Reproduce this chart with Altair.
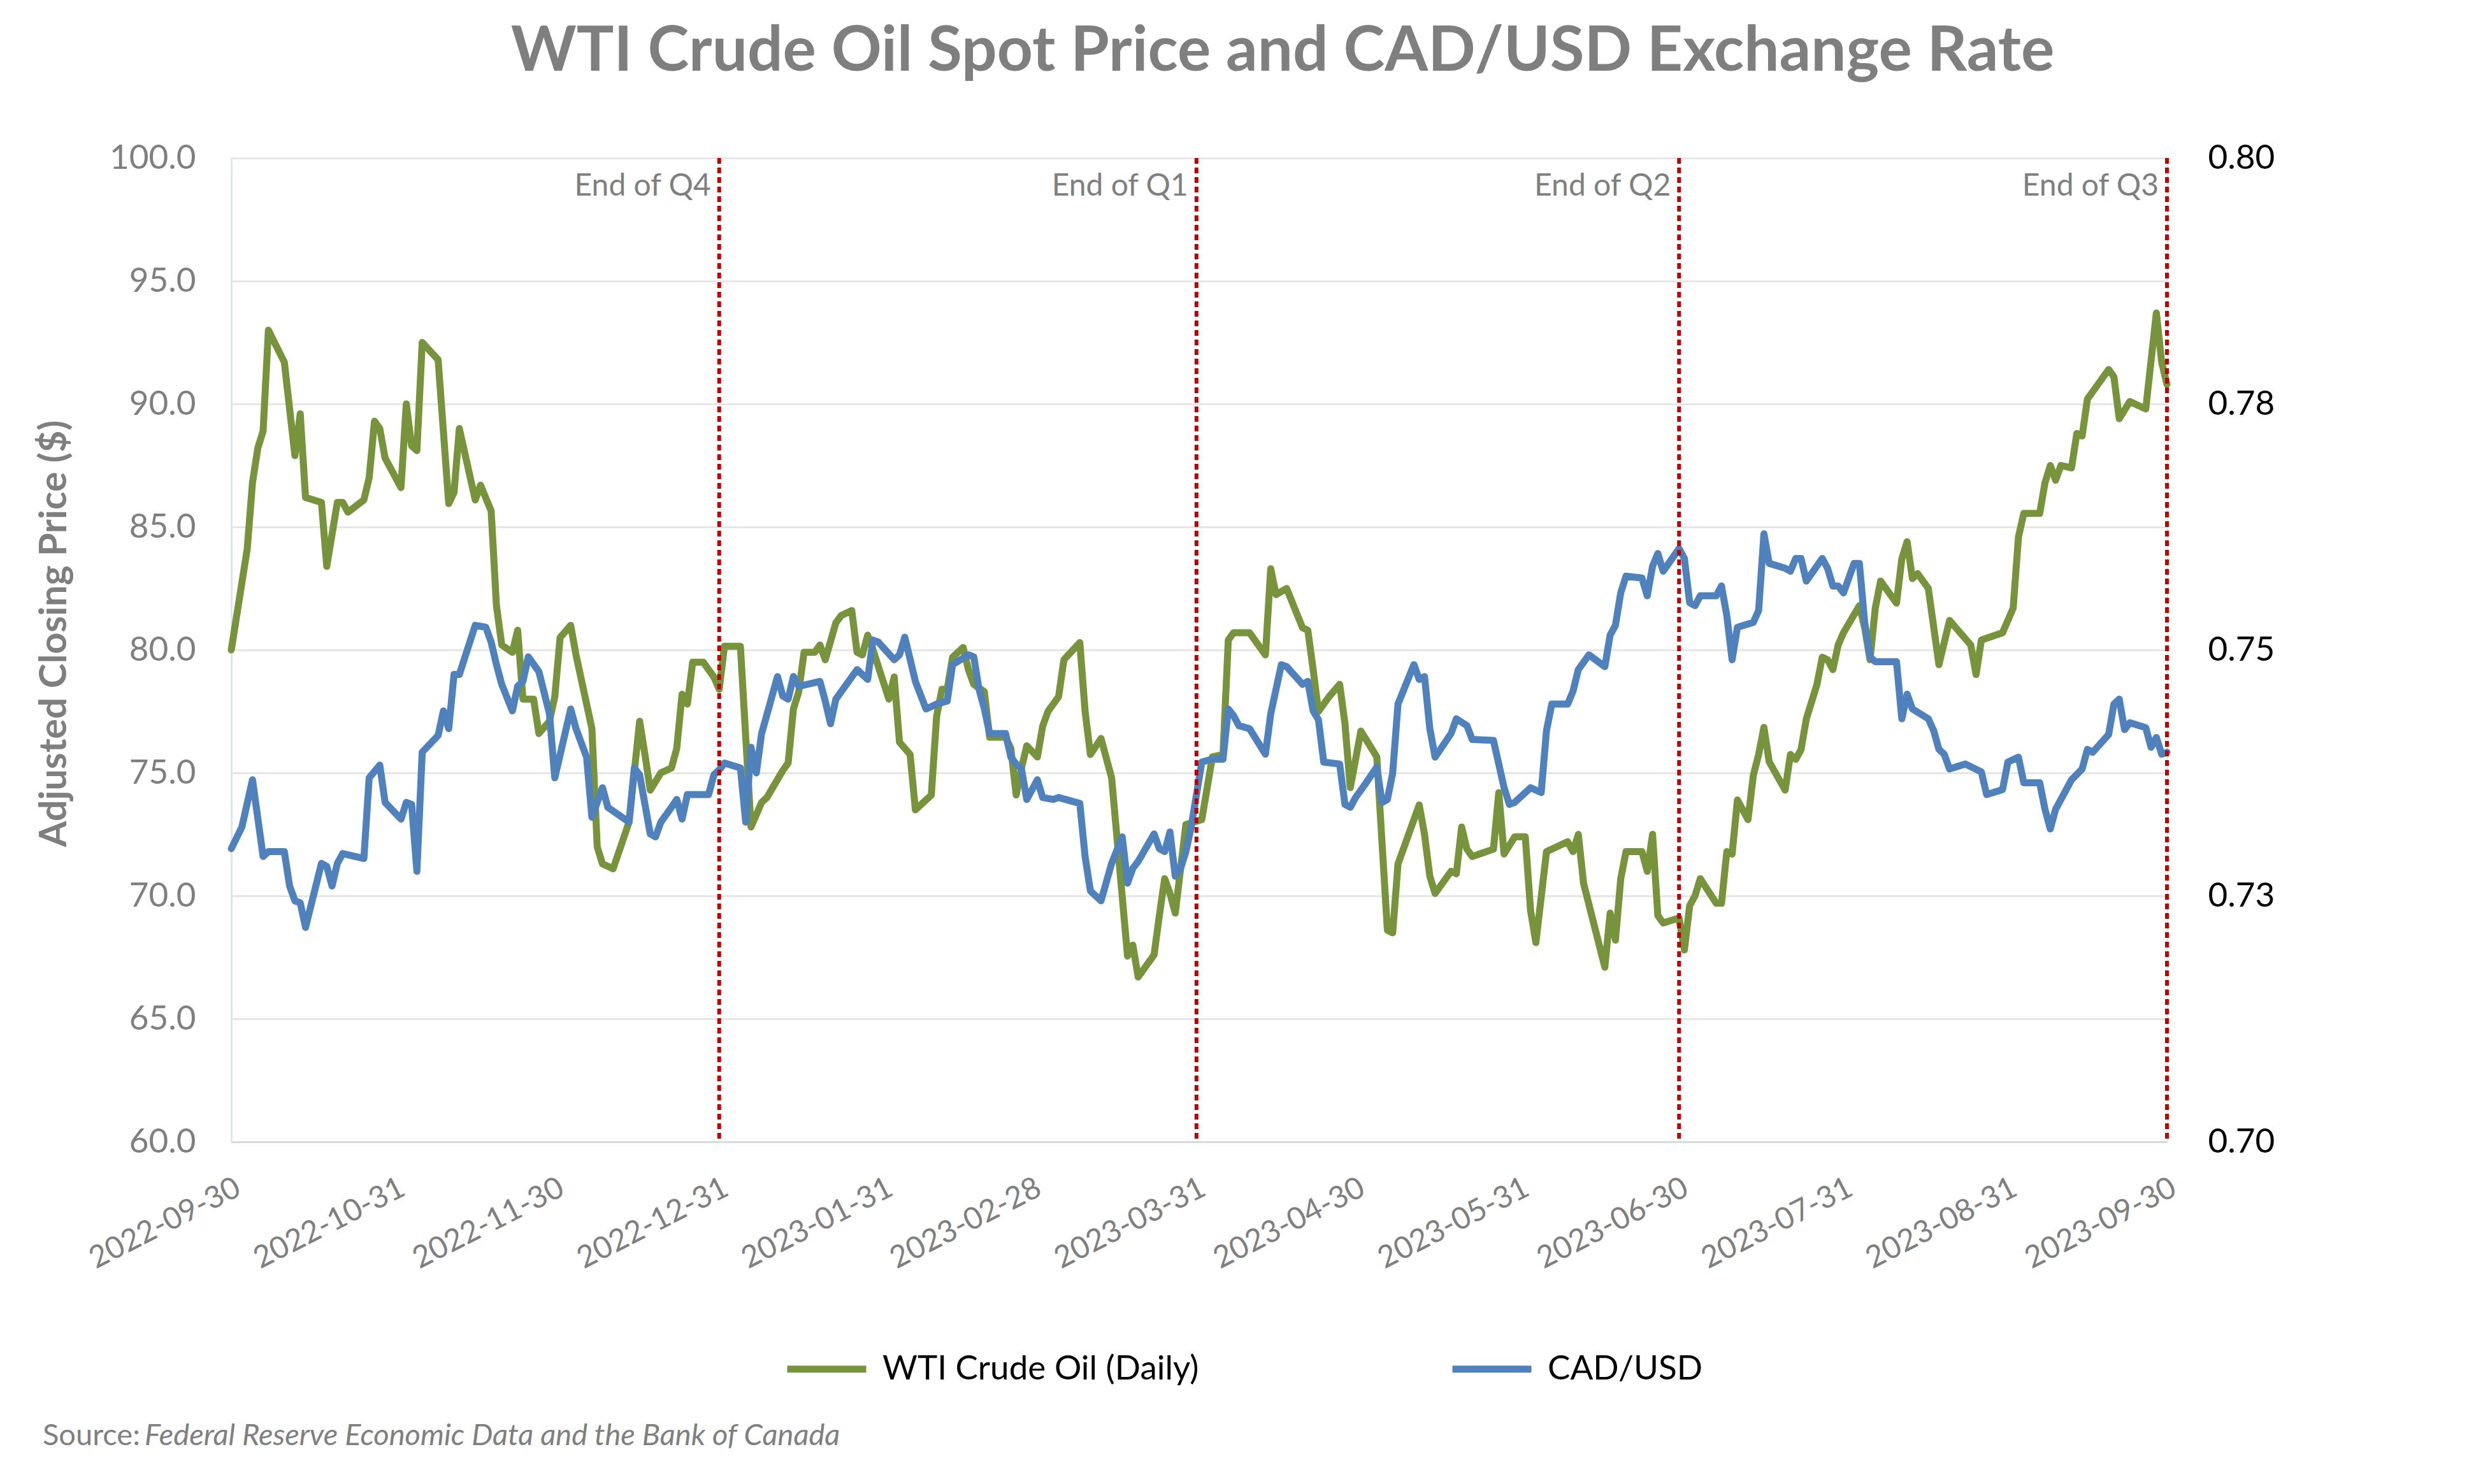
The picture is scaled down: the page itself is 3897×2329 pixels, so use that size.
import altair as alt
import pandas as pd

# ---------------- data ----------------
start_date = "2022-09-30"
end_date = "2023-09-30"
series_names = ["WTI Crude Oil (Daily)", "CAD/USD"]
series_colors = ["#77933C", "#4F81BD"]

# days after 2022-09-30
wti_days = [0, 3, 4, 5, 6, 7, 10, 11, 12, 13, 14, 17, 18, 20, 21, 22, 25, 26, 27, 28, 29,
            32, 33, 34, 35, 36, 39, 41, 42, 43, 46, 47, 49, 50, 51, 53, 54, 55, 57, 58,
            60, 61, 62, 64, 65, 68, 69, 70, 72, 75, 77, 78, 79, 81, 83, 84, 85, 86, 87,
            89, 91, 92, 93, 96, 98, 100, 101, 104, 105, 106, 107, 108, 110, 111, 112,
            114, 115, 117, 118, 119, 120, 121, 124, 125, 126, 128, 129, 132, 133, 134,
            135, 136, 138, 139, 140, 142, 143, 146, 147, 148, 149, 150, 152, 153, 154,
            156, 157, 160, 161, 162, 164, 166, 169, 170, 171, 174, 175, 176, 177, 178,
            180, 183, 185, 187, 188, 189, 192, 195, 196, 197, 199, 202, 203, 204, 205,
            207, 209, 210, 211, 213, 216, 218, 219, 220, 224, 225, 226, 227, 230, 231,
            232, 233, 234, 238, 239, 240, 242, 244, 245, 246, 248, 252, 253, 254, 255,
            259, 260, 261, 262, 263, 266, 267, 268, 269, 270, 273, 274, 275, 276, 277,
            280, 281, 282, 283, 284, 286, 287, 288, 289, 290, 293, 294, 295, 296, 297,
            299, 300, 301, 302, 303, 304, 307, 308, 309, 310, 311, 314, 315, 316, 317,
            318, 320, 322, 324, 326, 328, 329, 330, 334, 336, 337, 338, 341, 342, 343,
            344, 345, 347, 348, 349, 350, 352, 354, 355, 356, 358, 361, 363, 364, 365]
wti_prices = [80.0, 84.1, 86.8, 88.2, 88.9, 93.0, 91.7, 89.8, 87.9, 89.6, 86.2, 86.0, 83.4,
              86.0, 86.0, 85.6, 86.1, 87.0, 89.3, 89.0, 87.8, 86.6, 90.0, 88.3, 88.1, 92.5,
              91.8, 85.95, 86.4, 89.0, 86.1, 86.7, 85.65, 81.8, 80.2, 79.9, 80.8, 78.0,
              78.0, 76.6, 77.1, 78.1, 80.5, 81.0, 79.8, 76.8, 72.0, 71.3, 71.1, 73.0,
              77.1, 75.75, 74.3, 75.0, 75.2, 76.0, 78.2, 77.8, 79.5, 79.5, 78.9, 78.4,
              80.15, 80.15, 72.8, 73.8, 74.0, 75.1, 75.4, 77.6, 78.3, 79.9, 79.9, 80.2,
              79.6, 81.1, 81.4, 81.6, 79.9, 79.8, 80.6, 80.0, 78.0, 78.9, 76.25, 75.75,
              73.5, 74.1, 77.3, 78.4, 78.4, 79.7, 80.1, 79.2, 78.6, 78.3, 76.45, 76.45,
              76.0, 74.1, 75.2, 76.1, 75.65, 76.9, 77.5, 78.1, 79.6, 80.3, 77.5, 75.75,
              76.4, 74.8, 67.55, 68.0, 66.7, 67.6, 69.2, 70.7, 70.1, 69.3, 72.9, 73.1,
              75.65, 75.75, 80.4, 80.7, 80.7, 79.8, 83.3, 82.25, 82.5, 80.9, 80.8, 79.2,
              77.5, 78.1, 78.6, 77.0, 74.4, 76.7, 75.65, 68.6, 68.5, 71.3, 73.7, 72.5,
              70.8, 70.1, 71.0, 70.9, 72.8, 71.9, 71.6, 71.9, 74.2, 71.7, 72.4, 72.4,
              69.4, 68.1, 71.8, 72.2, 71.8, 72.5, 70.5, 67.1, 69.3, 68.2, 70.7, 71.8,
              71.8, 71.0, 72.5, 69.2, 68.9, 69.1, 67.8, 69.6, 70.0, 70.7, 69.7, 69.7,
              71.8, 71.7, 73.9, 73.1, 74.9, 75.75, 76.85, 75.45, 74.3, 75.75, 75.55,
              75.95, 77.2, 78.6, 79.7, 79.6, 79.2, 80.2, 80.7, 81.8, 80.9, 79.6, 81.7,
              82.8, 81.9, 83.7, 84.4, 82.9, 83.1, 82.5, 79.4, 81.2, 80.7, 80.2, 79.0,
              80.4, 80.7, 81.7, 84.6, 85.55, 85.55, 86.8, 87.5, 86.9, 87.5, 87.4, 88.8,
              88.7, 90.2, 90.8, 91.4, 91.1, 89.4, 90.1, 89.8, 93.7, 91.7, 90.8]

cad_days = [0, 2, 4, 6, 7, 10, 11, 12, 13, 14, 17, 18, 19, 20, 21, 25, 26, 28, 29, 32, 33,
            34, 35, 36, 39, 40, 41, 42, 43, 46, 48, 49, 50, 51, 53, 54, 55, 56, 58, 60,
            61, 64, 65, 67, 68, 70, 71, 75, 76, 77, 79, 80, 81, 83, 84, 85, 86, 90, 91,
            92, 93, 96, 97, 98, 99, 100, 103, 104, 105, 106, 107, 111, 112, 113, 114,
            118, 120, 121, 122, 125, 126, 127, 129, 131, 133, 135, 136, 139, 140, 141,
            142, 143, 146, 147, 148, 149, 150, 152, 153, 155, 156, 160, 161, 162, 164,
            166, 168, 169, 170, 171, 174, 175, 176, 177, 178, 179, 180, 181, 183, 185,
            187, 188, 189, 190, 192, 195, 196, 198, 199, 202, 203, 204, 205, 206, 209,
            210, 211, 212, 214, 216, 217, 218, 219, 220, 223, 224, 225, 226, 227, 230,
            231, 233, 234, 238, 240, 241, 242, 245, 247, 248, 249, 252, 253, 254, 256,
            259, 260, 261, 262, 263, 266, 267, 268, 269, 270, 273, 274, 275, 276, 277,
            280, 281, 282, 283, 284, 287, 288, 289, 290, 293, 294, 295, 296, 297, 300,
            301, 302, 303, 304, 306, 307, 308, 309, 310, 314, 315, 316, 317, 320, 321,
            322, 323, 324, 327, 330, 331, 334, 335, 337, 338, 341, 342, 343, 344, 347,
            349, 350, 351, 354, 355, 356, 357, 358, 361, 362, 363, 364, 365]
cad_rates = [0.7298, 0.7320, 0.7368, 0.7290, 0.7295, 0.7295, 0.7260, 0.7245, 0.7243, 0.7218,
             0.7283, 0.7280, 0.7260, 0.7283, 0.7293, 0.7288, 0.7370, 0.7383, 0.7345, 0.7328,
             0.7345, 0.7343, 0.7275, 0.7396, 0.7413, 0.7438, 0.7420, 0.7475, 0.7475, 0.7525,
             0.7523, 0.7508, 0.7485, 0.7465, 0.7438, 0.7463, 0.7468, 0.7493, 0.7478, 0.7435,
             0.7370, 0.7440, 0.7420, 0.7391, 0.7330, 0.7360, 0.7340, 0.7325, 0.7380, 0.7373,
             0.7313, 0.7310, 0.7325, 0.7340, 0.7348, 0.7328, 0.7353, 0.7353, 0.7373, 0.7378,
             0.7385, 0.7380, 0.7325, 0.7401, 0.7375, 0.7415, 0.7473, 0.7453, 0.7450, 0.7473,
             0.7463, 0.7468, 0.7448, 0.7425, 0.7450, 0.7480, 0.7470, 0.7510, 0.7508, 0.7490,
             0.7495, 0.7513, 0.7468, 0.7440, 0.7445, 0.7448, 0.7485, 0.7495, 0.7493, 0.7460,
             0.7440, 0.7415, 0.7415, 0.7391, 0.7384, 0.7379, 0.7348, 0.7368, 0.7350, 0.7348,
             0.7350, 0.7344, 0.7290, 0.7255, 0.7245, 0.7283, 0.7310, 0.7263, 0.7278, 0.7285,
             0.7313, 0.7298, 0.7295, 0.7315, 0.7270, 0.7278, 0.7295, 0.7320, 0.7386, 0.7389,
             0.7389, 0.7440, 0.7433, 0.7423, 0.7420, 0.7394, 0.7435, 0.7485, 0.7483, 0.7465,
             0.7468, 0.7438, 0.7429, 0.7386, 0.7384, 0.7343, 0.7340, 0.7350, 0.7365, 0.7381,
             0.7345, 0.7348, 0.7375, 0.7445, 0.7485, 0.7470, 0.7473, 0.7420, 0.7391, 0.7415,
             0.7430, 0.7423, 0.7409, 0.7408, 0.7360, 0.7343, 0.7345, 0.7360, 0.7355, 0.7418,
             0.7445, 0.7445, 0.7458, 0.7480, 0.7495, 0.7483, 0.7515, 0.7525, 0.7558, 0.7575,
             0.7573, 0.7555, 0.7585, 0.7598, 0.7580, 0.7603, 0.7593, 0.7548, 0.7545, 0.7555,
             0.7555, 0.7565, 0.7535, 0.7490, 0.7523, 0.7528, 0.7540, 0.7618, 0.7588, 0.7583,
             0.7580, 0.7593, 0.7593, 0.7570, 0.7593, 0.7583, 0.7565, 0.7565, 0.7558, 0.7588,
             0.7588, 0.7528, 0.7493, 0.7488, 0.7488, 0.7430, 0.7455, 0.7440, 0.7430, 0.7418,
             0.7399, 0.7394, 0.7379, 0.7384, 0.7376, 0.7353, 0.7358, 0.7386, 0.7391, 0.7365,
             0.7365, 0.7338, 0.7318, 0.7338, 0.7368, 0.7379, 0.7399, 0.7396, 0.7414, 0.7445,
             0.7450, 0.7419, 0.7426, 0.7421, 0.7401, 0.7411, 0.7394, 0.7396]

quarter_end_dates = ["2022-12-31", "2023-03-31", "2023-06-30", "2023-09-30"]
quarter_labels = ["End of Q4", "End of Q1", "End of Q2", "End of Q3"]

x_tick_dates = ["2022-09-30", "2022-10-31", "2022-11-30", "2022-12-31", "2023-01-31",
                "2023-02-28", "2023-03-31", "2023-04-30", "2023-05-31", "2023-06-30",
                "2023-07-31", "2023-08-31", "2023-09-30"]
price_ticks = [60, 65, 70, 75, 80, 85, 90, 95, 100]
cad_ticks = [0.70, 0.725, 0.75, 0.775, 0.80]
cad_tick_labels = ["0.70", "0.73", "0.75", "0.78", "0.80"]

title_text = "WTI Crude Oil Spot Price and CAD/USD Exchange Rate"
y_title = "Adjusted Closing Price ($)"
source_prefix = "Source:"
source_body = "Federal Reserve Economic Data and the Bank of Canada"

# ---------------- layout / style ----------------
PLOT_W, PLOT_H = 3038, 1544
FONT = "Lato"
GRAY = "#7F7F7F"

base = pd.Timestamp(start_date)


def to_dates(days):
    return [(base + pd.Timedelta(days=d)).strftime("%Y-%m-%d") for d in days]


def dt(s):
    y, m, d = (int(p) for p in s.split("-"))
    return alt.DateTime(year=y, month=m, date=d, utc=True)


wti_df = pd.DataFrame({"date": to_dates(wti_days), "price": wti_prices,
                       "series": series_names[0]})
cad_df = pd.DataFrame({"date": to_dates(cad_days), "rate": cad_rates,
                       "series": series_names[1]})
q_df = pd.DataFrame({"date": quarter_end_dates, "label": quarter_labels})
txt_df = pd.DataFrame({"prefix": [source_prefix], "body": [source_body],
                       "title": [title_text]})

x_enc = alt.X(
    "date:T",
    scale=alt.Scale(type="utc", domain=[dt(start_date), dt(end_date)], nice=False),
    axis=alt.Axis(values=[dt(s) for s in x_tick_dates],
                  labelExpr="utcFormat(datum.value, '%Y-%m-%d')",
                  labelAngle=333, labelAlign="right", labelBaseline="top",
                  labelFont=FONT, labelFontSize=48, labelColor=GRAY, labelPadding=48,
                  labelLimit=600, labelFlush=False, labelOverlap=False, labelBound=False,
                  ticks=False, domainColor="#D9D9D9", domainWidth=3, grid=False,
                  title=None),
)

y_left = alt.Y(
    "price:Q",
    scale=alt.Scale(domain=[60, 100], nice=False, zero=False),
    axis=alt.Axis(orient="left", values=price_ticks, format=".1f", title=y_title,
                  titleFont=FONT, titleFontSize=59, titleFontWeight="bold",
                  titleColor=GRAY, titleAngle=270, titleX=-278, titleY=746,
                  titleAlign="center", titleBaseline="middle",
                  labelFont=FONT, labelFontSize=53, labelColor=GRAY, labelPadding=56,
                  ticks=False, grid=True, gridColor="#E6E6E6", gridWidth=3,
                  domainColor="#E1E7F0", domainWidth=3),
)

cad_expr = " : ".join(
    f"abs(datum.value - {v}) < 0.000001 ? '{lab}'" for v, lab in zip(cad_ticks, cad_tick_labels)
) + " : ''"

y_right = alt.Y(
    "rate:Q",
    scale=alt.Scale(domain=[0.70, 0.80], nice=False, zero=False),
    axis=alt.Axis(orient="right", values=cad_ticks, labelExpr=cad_expr, title=None,
                  labelFont=FONT, labelFontSize=53, labelColor="#000000",
                  labelPadding=64, ticks=False, grid=False, domain=False),
)

color_enc = alt.Color(
    "series:N",
    scale=alt.Scale(domain=series_names, range=series_colors),
    legend=alt.Legend(title=None, orient="none", legendX=867, legendY=1833,
                      direction="horizontal", symbolType="stroke",
                      symbolStrokeWidth=11, symbolSize=124 * 124,
                      labelFont=FONT, labelFontSize=53, labelColor="#000000",
                      labelOffset=20, columnPadding=375, labelLimit=1000),
)

line_style = dict(strokeWidth=11, strokeJoin="round", strokeCap="round")

wti_line = alt.Chart(wti_df).mark_line(**line_style).encode(x=x_enc, y=y_left, color=color_enc)
cad_line = alt.Chart(cad_df).mark_line(**line_style).encode(x=x_enc, y=y_right, color=color_enc)

rules = alt.Chart(q_df).mark_rule(color="#C00000", strokeWidth=6, strokeDash=[9, 6]).encode(
    x=x_enc
)
q_text = alt.Chart(q_df).mark_text(
    align="right", baseline="middle", dx=-13, font=FONT, fontSize=48, color=GRAY
).encode(x=x_enc, y=alt.value(45), text="label:N")

title_mark = alt.Chart(txt_df).mark_text(
    align="center", baseline="middle", font=FONT, fontSize=98, fontWeight="bold", color=GRAY
).encode(x=alt.value(1650), y=alt.value(-166), text="title:N")

src1 = alt.Chart(txt_df).mark_text(
    align="left", baseline="middle", font=FONT, fontSize=47, color=GRAY
).encode(x=alt.value(-296), y=alt.value(2006), text="prefix:N")
src2 = alt.Chart(txt_df).mark_text(
    align="left", baseline="middle", font=FONT, fontSize=47, color=GRAY, fontStyle="italic"
).encode(x=alt.value(-136), y=alt.value(2006), text="body:N")

chart = (
    alt.layer(wti_line, cad_line, rules, q_text, title_mark, src1, src2)
    .resolve_scale(y="independent")
    .properties(
        width=PLOT_W,
        height=PLOT_H,
        padding={"left": 355, "top": 240, "right": 488, "bottom": 529},
        autosize=alt.AutoSizeParams(type="none"),
    )
    .configure_view(stroke=None)
    .configure(background="white")
)

chart.save("out.html", embed_options={"renderer": "svg", "actions": False})
